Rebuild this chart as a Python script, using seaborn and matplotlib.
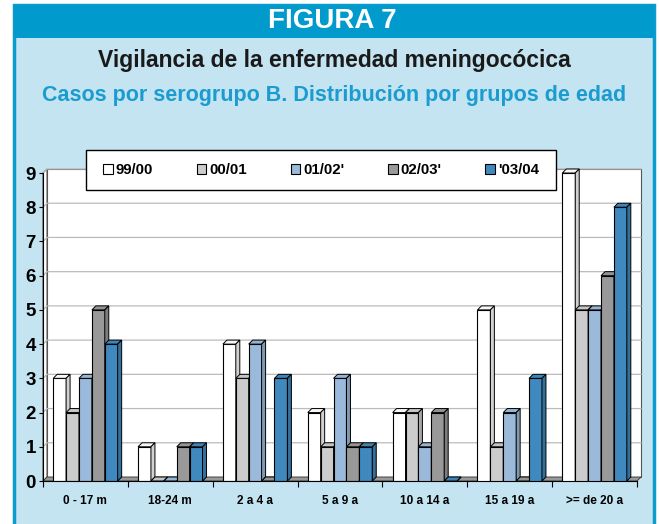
import numpy as np
import pandas as pd
import seaborn as sns
import matplotlib.pyplot as plt
from matplotlib.patches import Polygon, Rectangle, Patch

# datos: casos por serogrupo B, por grupo de edad y temporada
grupos = ['0 - 17 m', '18-24 m', '2 a 4 a', '5 a 9 a', '10 a 14 a', '15 a 19 a', '>= de 20 a']
temporadas = ['99/00', '00/01', "01/02'", "02/03'", "'03/04"]
casos_9900 = [3, 1, 4, 2, 2, 5, 9]
casos_0001 = [2, 0, 3, 1, 2, 1, 5]
casos_0102 = [3, 0, 4, 3, 1, 2, 5]
casos_0203 = [5, 1, 0, 1, 2, 0, 6]
casos_0304 = [4, 1, 3, 1, 0, 3, 8]
colores = ['#FFFFFF', '#CCCCCC', '#9BBADB', '#999999', '#3F89BE']

df = pd.DataFrame({
    'grupo': grupos * 5,
    'temporada': np.repeat(temporadas, len(grupos)),
    'casos': casos_9900 + casos_0001 + casos_0102 + casos_0203 + casos_0304,
})

plt.rcParams['font.family'] = ['Liberation Sans', 'DejaVu Sans']
plt.rcParams['font.weight'] = 'bold'

W, H = 659, 524
fig = plt.figure(figsize=(W / 100, H / 100), dpi=100)
fig.patch.set_facecolor('white')

def fx(px):
    return px / W

def fy(py):
    return 1 - py / H

# marco y cabecera
fig.add_artist(Rectangle((fx(14), fy(H + 5)), fx(640), fy(5) - fy(H + 5),
                         transform=fig.transFigure, facecolor='#C3E4F0',
                         edgecolor='#0A9BCF', linewidth=2.5, zorder=-5))
fig.add_artist(Rectangle((fx(14), fy(38)), fx(640), fy(5) - fy(38),
                         transform=fig.transFigure, facecolor='#009BCC',
                         edgecolor='none', zorder=-4))

fig.text(fx(332), fy(21), 'FIGURA 7', color='white', fontsize=20,
         fontweight='bold', ha='center', va='center')
fig.text(fx(334), fy(61), 'Vigilancia de la enfermedad meningocócica', color='#1A1A1A',
         fontsize=16.5, fontweight='bold', ha='center', va='center')
fig.text(fx(334), fy(95), 'Casos por serogrupo B. Distribución por grupos de edad',
         color='#1B9CD0', fontsize=15.5, fontweight='bold', ha='center', va='center')

# ejes: frente del gráfico 3D
x0_px, x1_px, y0_px, ytop_px = 43, 641, 481, 169
ux = (637 - 43) / 7.0     # px por categoría
uy = (481 - 173) / 9.0    # px por caso
ax = fig.add_axes([fx(x0_px), fy(y0_px), fx(x1_px - x0_px), (y0_px - ytop_px) / H])
ax.set_facecolor('none')

sns.barplot(data=df, x='grupo', y='casos', hue='temporada', palette=colores,
            width=0.76, gap=0, edgecolor='black', linewidth=0.8, saturation=1,
            errorbar=None, legend=False, ax=ax)

dx = 4 / ux
dy = 4 / uy
xmin = -0.5
xmax = xmin + (x1_px - x0_px) / ux
ymax = (y0_px - ytop_px) / uy
ax.set_xlim(xmin, xmax)
ax.set_ylim(0, ymax)

# pared del fondo, pared izquierda y suelo
ax.add_patch(Rectangle((xmin + dx, dy), 7, 9, facecolor='white', edgecolor='#555555',
                       linewidth=0.8, zorder=0, clip_on=False))
ax.add_patch(Polygon([(xmin, 0), (xmin + dx, dy), (xmin + dx, 9 + dy), (xmin, 9)],
                     facecolor='white', edgecolor='#555555', linewidth=0.8, zorder=0.5,
                     clip_on=False))
ax.add_patch(Polygon([(xmin, 0), (xmin + dx, dy), (xmin + 7 + dx, dy), (xmin + 7, 0)],
                     facecolor='#999999', edgecolor='#333333', linewidth=0.6, zorder=0.6,
                     clip_on=False))
for v in range(1, 10):
    ax.plot([xmin, xmin + dx, xmin + 7 + dx], [v, v + dy, v + dy], color='#BBBBBB',
            linewidth=0.9, zorder=0.7, clip_on=False)

# caras laterales y superiores de cada barra
barras = sorted([p for p in ax.patches if isinstance(p, Rectangle) and p.get_width() < 0.5],
                key=lambda p: p.get_x())
for k, p in enumerate(barras):
    x, w, h = p.get_x(), p.get_width(), p.get_height()
    fc = np.array(p.get_facecolor()[:3])
    z = 10 + 2 * k
    p.set_zorder(z)
    ax.add_patch(Polygon([(x, h), (x + dx, h + dy), (x + w + dx, h + dy), (x + w, h)],
                         facecolor=np.clip(fc * 0.97, 0, 1), edgecolor='black',
                         linewidth=0.7, zorder=z + 0.5, clip_on=False))
    ax.add_patch(Polygon([(x + w, 0), (x + w + dx, dy), (x + w + dx, h + dy), (x + w, h)],
                         facecolor=np.clip(fc * 0.82, 0, 1), edgecolor='black',
                         linewidth=0.7, zorder=z + 0.5, clip_on=False))

for s in ['top', 'right']:
    ax.spines[s].set_visible(False)
ax.spines['left'].set_bounds(0, 9)
ax.spines['bottom'].set_bounds(xmin, xmin + 7)
ax.spines['left'].set_linewidth(0.8)
ax.spines['bottom'].set_linewidth(0.8)
ax.spines['left'].set_zorder(50)
ax.spines['bottom'].set_zorder(50)

ax.set_yticks(range(10))
ax.set_yticklabels([str(v) for v in range(10)], fontsize=13.5, fontweight='bold')
ax.tick_params(axis='y', length=3, width=0.8, pad=2)
ax.set_xticks(range(len(grupos)))
ax.set_xticklabels(grupos, fontsize=8.5, fontweight='bold')
ax.set_xticks(np.arange(-0.5, 7, 1), minor=True)
ax.tick_params(axis='x', which='major', length=0, pad=10)
ax.tick_params(axis='x', which='minor', length=4, width=0.8)
ax.set_xlabel('')
ax.set_ylabel('')

# leyenda con marco propio
fig.add_artist(Rectangle((fx(86), fy(190)), fx(556 - 86), fy(150) - fy(190),
                         transform=fig.transFigure, facecolor='white',
                         edgecolor='black', linewidth=1.0, zorder=4))
handles = [Patch(facecolor=c, edgecolor='black', linewidth=0.8) for c in colores]
leg = fig.legend(handles, temporadas, loc='center', bbox_to_anchor=(fx(321), fy(170)),
                 ncol=5, frameon=False, prop={'size': 10.8, 'weight': 'bold'},
                 handlelength=0.65, handleheight=0.65, handletextpad=0.2,
                 columnspacing=2.9, borderpad=0.3)
leg.set_zorder(5)

fig.savefig('out.png', dpi=100)
